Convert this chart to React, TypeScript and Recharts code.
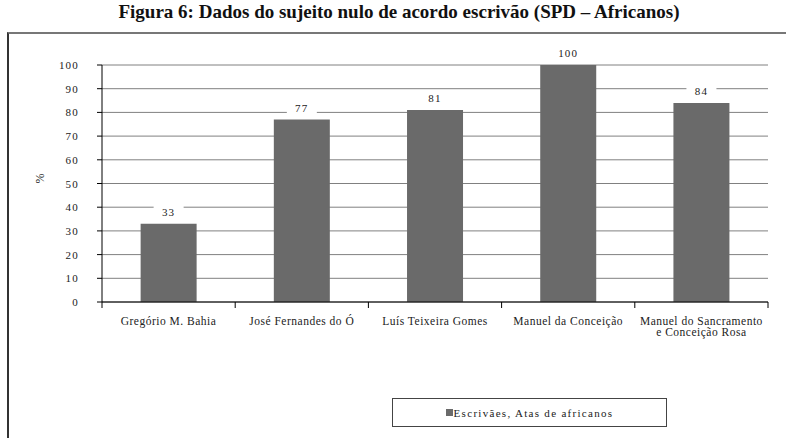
import React from 'react';
import { BarChart, Bar, XAxis, YAxis, CartesianGrid, LabelList, Legend } from 'recharts';

const categories = [
  'Gregório M. Bahia',
  'José Fernandes do Ó',
  'Luís Teixeira Gomes',
  'Manuel da Conceição',
  'Manuel do Sancramento e Conceição Rosa',
];
const categoryLines = [
  ['Gregório M. Bahia'],
  ['José Fernandes do Ó'],
  ['Luís Teixeira Gomes'],
  ['Manuel da Conceição'],
  ['Manuel do Sancramento', 'e Conceição Rosa'],
];
const values = [33, 77, 81, 100, 84];
const yTicks = [0, 10, 20, 30, 40, 50, 60, 70, 80, 90, 100];
const seriesName = 'Escrivães, Atas de africanos';
const title = 'Figura 6: Dados do sujeito nulo de acordo escrivão (SPD – Africanos)';

const data = categories.map((c, i) => ({ name: c, value: values[i] }));

const W = 786;
const H = 438;
const PLOT_LEFT = 102;
const PLOT_RIGHT = 768;
const BAND = (PLOT_RIGHT - PLOT_LEFT) / categories.length;
const FONT = '"Liberation Serif", "Times New Roman", serif';
const BAR_COLOR = '#6a6a6a';

const XTick = (props: any) => {
  const { x, y, payload } = props;
  const idx = categories.indexOf(payload.value);
  const lines = categoryLines[idx] || [payload.value];
  return (
    <g>
      <line x1={x - BAND / 2} y1={y} x2={x - BAND / 2} y2={y + 6} stroke="#000" />
      {idx === categories.length - 1 && (
        <line x1={x + BAND / 2} y1={y} x2={x + BAND / 2} y2={y + 6} stroke="#000" />
      )}
      {lines.map((l: string, i: number) => (
        <text
          key={i}
          x={x}
          y={y + 23 + i * 11}
          textAnchor="middle"
          style={{ fontFamily: FONT, fontSize: 11.5, letterSpacing: 0.5 }}
          fill="#222"
        >
          {l}
        </text>
      ))}
    </g>
  );
};

const YTick = (props: any) => {
  const { x, y, payload } = props;
  return (
    <text
      x={x}
      y={y + 4}
      textAnchor="end"
      style={{ fontFamily: FONT, fontSize: 11, letterSpacing: 1.2 }}
      fill="#222"
    >
      {payload.value}
    </text>
  );
};

const ValueLabel = (props: any) => {
  const { x, y, width, value } = props;
  const cx = x + width / 2;
  return (
    <g>
      <rect x={cx - 15} y={y - 20} width={30} height={15} fill="#fff" />
      <text
        x={cx}
        y={y - 8}
        textAnchor="middle"
        style={{ fontFamily: FONT, fontSize: 11, letterSpacing: 1.2 }}
        fill="#222"
      >
        {value}
      </text>
    </g>
  );
};

const LegendBox = () => (
  <div
    style={{
      width: 275,
      height: 29,
      boxSizing: 'border-box',
      border: '1px solid #444',
      background: '#fff',
      display: 'flex',
      alignItems: 'center',
      justifyContent: 'center',
      fontFamily: FONT,
      fontSize: 11,
      letterSpacing: 1.3,
      color: '#222',
    }}
  >
    <span
      style={{
        display: 'inline-block',
        width: 7,
        height: 7,
        background: BAR_COLOR,
        marginRight: 1,
      }}
    />
    {seriesName}
  </div>
);

export default function App() {
  return (
    <div style={{ position: 'absolute', left: 0, top: 0, width: W, height: H, background: '#fff', overflow: 'hidden' }}>
      <div
        style={{
          position: 'absolute',
          left: 0,
          width: W,
          top: 1,
          textAlign: 'center',
          fontFamily: FONT,
          fontWeight: 'bold',
          fontSize: 19,
          color: '#111',
          paddingLeft: 12,
          boxSizing: 'border-box',
        }}
      >
        {title}
      </div>
      <div
        style={{
          position: 'absolute',
          left: 7,
          top: 32,
          width: W,
          height: H,
          borderTop: '2px solid #777',
          borderLeft: '2px solid #333',
        }}
      />
      <div style={{ position: 'absolute', left: 0, top: 0 }}>
        <BarChart
          width={W}
          height={H}
          data={data}
          margin={{ top: 65, right: 18, bottom: 106, left: 2 }}
          barCategoryGap="29%"
        >
          <CartesianGrid vertical={false} stroke="#808080" />
          <XAxis
            dataKey="name"
            tickLine={false}
            tickSize={0}
            tickMargin={0}
            height={30}
            stroke="#000"
            interval={0}
            tick={<XTick />}
          />
          <YAxis
            domain={[0, 100]}
            ticks={yTicks}
            width={100}
            stroke="#000"
            tickSize={5}
            tickMargin={18}
            interval={0}
            tick={<YTick />}
            label={{ value: '%', angle: -90, position: 'insideLeft', offset: 38, style: { fontFamily: FONT, fontSize: 12, fill: '#222' } }}
          />
          <YAxis
            yAxisId="r"
            orientation="right"
            width={0}
            tick={false}
            tickLine={false}
            stroke="#808080"
          />
          <Legend
            layout="vertical"
            verticalAlign="middle"
            align="center"
            wrapperStyle={{ left: 392, top: 398, width: 275, height: 29 }}
            content={<LegendBox />}
          />
          <Bar dataKey="value" name={seriesName} fill={BAR_COLOR} isAnimationActive={false}>
            <LabelList dataKey="value" content={<ValueLabel />} />
          </Bar>
        </BarChart>
      </div>
    </div>
  );
}
